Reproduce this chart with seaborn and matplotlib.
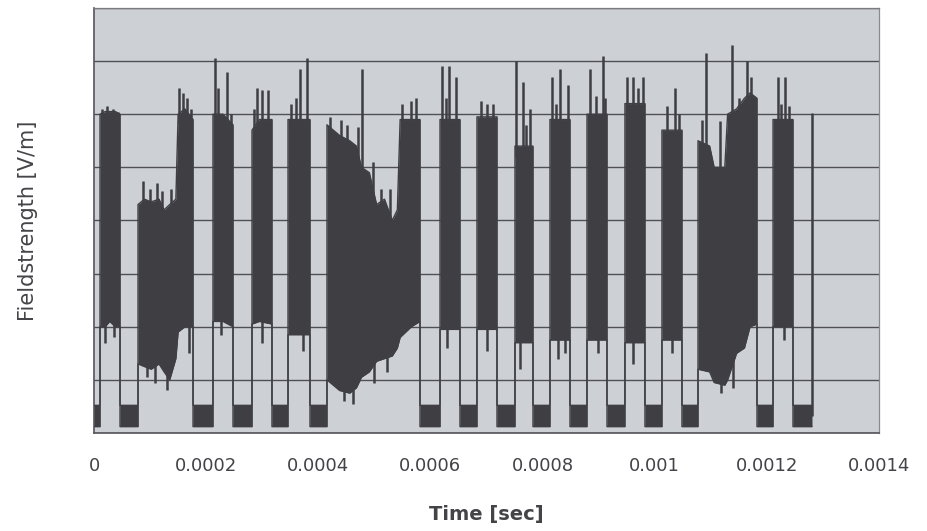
import numpy as np
import pandas as pd
import matplotlib
matplotlib.use("Agg")
import matplotlib.pyplot as plt
import seaborn as sns

# Envelope of the pulsed field-strength trace: time in microseconds,
# lower and upper edge of the signal band in V/m.
env_us = [
    0.0, 10.7,
    10.7, 20.0, 28.0, 38.0, 46.4,
    46.4, 78.5,
    78.5, 90.0, 102.0, 116.0, 125.0, 135.0, 146.0, 150.0, 162.0, 176.6,
    176.6, 212.2,
    212.2, 230.0, 247.9,
    247.9, 281.8,
    281.8, 295.0, 317.4,
    317.4, 346.0,
    346.0, 385.2,
    385.2, 415.5,
    415.5, 438.0, 456.0, 468.0, 477.0, 491.0, 504.0, 518.0, 532.0, 541.0, 546.0, 566.0, 581.4,
    581.4, 617.1,
    617.1, 652.7,
    652.7, 683.0,
    683.0, 718.7,
    718.7, 750.8,
    750.8, 782.9,
    782.9, 813.2,
    813.2, 848.9,
    848.9, 879.2,
    879.2, 914.9,
    914.9, 946.9,
    946.9, 982.6,
    982.6, 1012.9,
    1012.9, 1048.6,
    1048.6, 1077.2,
    1077.2, 1098.0, 1106.0, 1125.0, 1130.0, 1146.0, 1160.0, 1170.0, 1182.4,
    1182.4, 1211.0,
    1211.0, 1246.6,
    1246.6, 1280.5,
]
env_low = [
    0.12, 0.12,
    2.0, 2.0, 2.1, 2.0, 2.0,
    0.12, 0.12,
    1.3, 1.25, 1.2, 1.3, 1.15, 1.0, 1.4, 1.9, 2.0, 2.0,
    0.12, 0.12,
    2.1, 2.1, 2.0,
    0.12, 0.12,
    2.05, 2.1, 2.05,
    0.12, 0.12,
    1.85, 1.85,
    0.12, 0.12,
    1.0, 0.8, 0.75, 0.85, 1.05, 1.15, 1.35, 1.4, 1.45, 1.6, 1.8, 2.0, 2.1,
    0.12, 0.12,
    1.95, 1.95,
    0.12, 0.12,
    1.95, 1.95,
    0.12, 0.12,
    1.7, 1.7,
    0.12, 0.12,
    1.75, 1.75,
    0.12, 0.12,
    1.75, 1.75,
    0.12, 0.12,
    1.7, 1.7,
    0.12, 0.12,
    1.75, 1.75,
    0.12, 0.12,
    1.2, 1.15, 0.95, 0.9, 1.0, 1.5, 1.6, 2.0, 2.05,
    0.12, 0.12,
    2.0, 2.0,
    0.12, 0.12,
]
env_high = [
    0.52, 0.52,
    6.0, 6.05, 6.05, 6.05, 6.0,
    0.52, 0.52,
    4.3, 4.4, 4.35, 4.4, 4.2, 4.3, 4.4, 6.0, 6.1, 5.9,
    0.52, 0.52,
    6.0, 6.0, 5.8,
    0.52, 0.52,
    5.7, 5.9, 5.9,
    0.52, 0.52,
    5.9, 5.9,
    0.52, 0.52,
    5.8, 5.6, 5.5, 5.4, 5.0, 4.9, 4.3, 4.4, 4.0, 4.2, 5.9, 5.9, 5.9,
    0.52, 0.52,
    5.9, 5.9,
    0.52, 0.52,
    5.95, 5.95,
    0.52, 0.52,
    5.4, 5.4,
    0.52, 0.52,
    5.9, 5.9,
    0.52, 0.52,
    6.0, 6.0,
    0.52, 0.52,
    6.2, 6.2,
    0.52, 0.52,
    5.7, 5.7,
    0.52, 0.52,
    5.5, 5.4, 5.0, 5.0, 6.0, 6.1, 6.3, 6.4, 6.3,
    0.52, 0.52,
    5.9, 5.9,
    0.52, 0.52,
]

# Peaks rising above the band (time in microseconds, peak in V/m)
spike_us = [14.0, 24.0, 34.0, 42.0,
            88.0, 100.0, 112.0, 122.0, 138.0,
            152.0, 158.0, 166.0, 173.0,
            215.8, 222.0, 237.2, 244.0,
            286.0, 290.7, 300.0, 310.0,
            352.0, 360.0, 367.4, 379.9,
            420.0, 440.0, 452.0, 470.0, 478.0, 498.0, 512.0, 528.0, 550.0, 565.0, 575.0,
            620.6, 627.0, 633.1, 645.6,
            690.0, 700.0, 712.0,
            752.6, 765.1, 770.0, 777.0,
            816.8, 824.0, 831.1, 846.0,
            884.6, 895.0, 907.7, 912.0,
            950.5, 961.2, 970.0, 979.1,
            1022.0, 1036.1, 1043.0,
            1084.0, 1091.4, 1116.4, 1137.8, 1150.0, 1164.6, 1172.0,
            1219.8, 1225.0, 1232.3, 1240.0,
            1280.5]
spike_peak = [6.1, 6.15, 6.1, 6.05,
              4.75, 4.6, 4.7, 4.55, 4.6,
              6.5, 6.4, 6.3, 6.1,
              7.06, 6.5, 6.8, 6.0,
              6.1, 6.5, 6.45, 6.45,
              6.2, 6.3, 6.85, 7.06,
              5.95, 5.9, 5.8, 5.75, 6.85, 5.1, 4.6, 4.6, 6.2, 6.25, 6.3,
              6.9, 6.3, 6.9, 6.7,
              6.25, 6.2, 6.2,
              7.0, 6.6, 5.8, 6.1,
              6.7, 6.2, 6.85, 6.55,
              6.85, 6.35, 7.1, 6.3,
              6.7, 6.7, 6.5, 6.7,
              6.15, 6.5, 6.0,
              5.9, 7.15, 5.87, 7.3, 6.3, 7.0, 6.7,
              6.7, 6.2, 6.7, 6.15,
              6.03]

# Dips reaching below the lower edge of the band (time in microseconds, V/m)
dip_us = [20.0, 36.0, 95.0, 108.0, 131.0, 170.0, 226.0, 300.0, 372.0,
          445.0, 462.0, 500.0, 522.0, 630.0, 700.0, 760.0, 828.0, 840.0,
          898.0, 962.0, 1030.0, 1118.0, 1140.0, 1230.0]
dip_low = [1.7, 1.8, 1.05, 0.95, 0.8, 1.5, 1.85, 1.7, 1.55,
           0.6, 0.55, 0.95, 1.15, 1.6, 1.55, 1.2, 1.4, 1.5,
           1.5, 1.3, 1.5, 0.75, 0.85, 1.75]

x_ticks = [0, 0.0002, 0.0004, 0.0006, 0.0008, 0.001, 0.0012, 0.0014]
x_tick_labels = ["0", "0.0002", "0.0004", "0.0006", "0.0008", "0.001", "0.0012", "0.0014"]

sns.set_style("white")
plt.rcParams["font.family"] = ["DejaVu Sans"]

trace = pd.DataFrame({
    "t": np.array(env_us) * 1e-6,
    "low": env_low,
    "high": env_high,
})

sig_color = "#3e3e43"
text_color = "#444448"

fig = plt.figure(figsize=(9.28, 5.31), dpi=100)
ax = fig.add_axes([0.1013, 0.1846, 0.8459, 0.8004])
ax.set_facecolor("#cdd1d6")

ax.fill_between(trace["t"], trace["low"], trace["high"], color=sig_color,
                linewidth=0, zorder=3)
sns.lineplot(data=trace, x="t", y="high", color=sig_color, linewidth=1.0,
             sort=False, estimator=None, ax=ax, zorder=4)
sns.lineplot(data=trace, x="t", y="low", color=sig_color, linewidth=1.0,
             sort=False, estimator=None, ax=ax, zorder=4)

spike_t = np.array(spike_us) * 1e-6
spike_base = np.interp(spike_t, trace["t"], trace["high"])
ax.vlines(spike_t, spike_base - 0.2, spike_peak, color=sig_color,
          linewidth=1.8, zorder=4)

dip_t = np.array(dip_us) * 1e-6
dip_base = np.interp(dip_t, trace["t"], trace["low"])
ax.vlines(dip_t, dip_low, dip_base + 0.2, color=sig_color,
          linewidth=1.8, zorder=4)

ax.set_xlim(0, 0.0014)
ax.set_ylim(0, 8)
ax.set_xticks(x_ticks)
ax.set_xticklabels(x_tick_labels)
ax.set_yticks(range(0, 9))
ax.set_yticklabels([])

ax.grid(axis="y", color="#4f4f55", linewidth=1.0, zorder=1)
ax.grid(axis="x", visible=False)
ax.set_axisbelow(True)

for side, col, lw in [("left", "#55555a", 1.2), ("bottom", "#55555a", 1.2),
                      ("top", "#7a7a80", 0.9), ("right", "#8a8a90", 0.9)]:
    ax.spines[side].set_visible(True)
    ax.spines[side].set_color(col)
    ax.spines[side].set_linewidth(lw)

ax.tick_params(axis="x", direction="out", length=6, width=1, color="#55555a",
               labelsize=13, labelcolor=text_color, pad=11)
ax.tick_params(axis="y", direction="out", length=4, width=1, color="#55555a")

ax.set_xlabel("Time [sec]", fontsize=14, fontweight="bold", color=text_color,
              labelpad=22)
ax.set_ylabel("Fieldstrength [V/m]", fontsize=15, color=text_color, labelpad=33)

fig.savefig("out.png", dpi=100, facecolor="white")
